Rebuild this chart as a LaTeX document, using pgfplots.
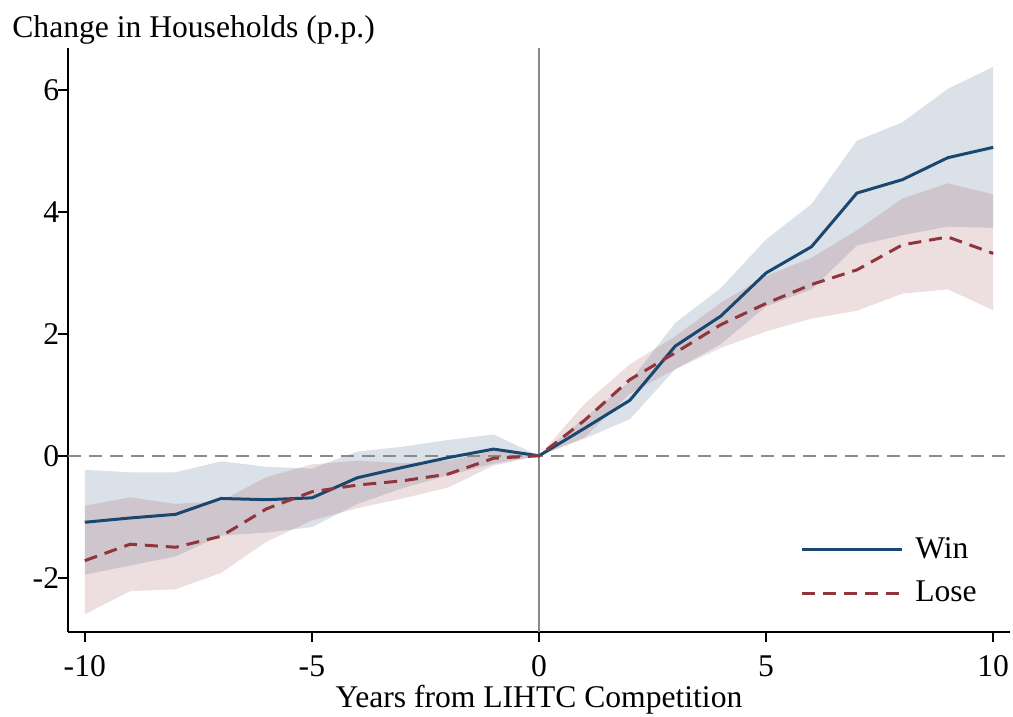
\documentclass[border=0pt]{standalone}
\usepackage{fontspec}
\setmainfont{Liberation Serif}
\usepackage{pgfplots}
\pgfplotsset{compat=1.18}
\definecolor{winc}{HTML}{1A476F}
\definecolor{losec}{HTML}{90353B}
\definecolor{refgray}{HTML}{8A8A8A}
\begin{document}
\fontsize{15.8}{18}\selectfont
\begin{tikzpicture}
\begin{axis}[
  name=ax,
  scale only axis, width=471pt, height=292pt,
  xmin=-10.37, xmax=10.37, ymin=-2.89, ymax=6.69,
  axis x line*=bottom, axis y line*=left,
  axis line style={line width=1pt, black},
  xtick={-10,-5,0,5,10}, xticklabels={-10,-5,0,5,10},
  ytick={-2,0,2,4,6}, yticklabels={-2,0,2,4,6},
  tick align=outside, major tick length=5pt,
  tick style={black, line width=0.9pt},
  xticklabel style={yshift=-1.5pt},
  yticklabel style={xshift=6pt},
  xlabel={Years from LIHTC Competition},
  xlabel style={at={(axis description cs:0.5,0)}, anchor=base, yshift=-38pt},
  clip=false,
  legend style={draw=none, fill=none, at={(0.777,0.17)}, anchor=north west, row sep=5pt, inner sep=0pt, /tikz/column sep=4pt},
  legend cell align=left,
  legend image code/.code={\draw[#1] (0pt,0pt) -- (50pt,0pt);},
]
% bands
\addplot[draw=none, fill=winc, fill opacity=0.16, forget plot] coordinates {
(-10,-0.23) (-9,-0.27) (-8,-0.27) (-7,-0.09) (-6,-0.18) (-5,-0.21) (-4,0.07) (-3,0.15) (-2,0.26) (-1,0.35) (0,0)
(1,0.62) (2,1.22) (3,2.18) (4,2.75) (5,3.55) (6,4.13) (7,5.17) (8,5.47) (9,6.02) (10,6.38)
(10,3.74) (9,3.76) (8,3.62) (7,3.45) (6,2.73) (5,2.45) (4,1.83) (3,1.42) (2,0.60) (1,0.28)
(0,0) (-1,-0.13) (-2,-0.32) (-3,-0.53) (-4,-0.79) (-5,-1.17) (-6,-1.26) (-7,-1.31) (-8,-1.65) (-9,-1.80) (-10,-1.95)
};
\addplot[draw=none, fill=losec, fill opacity=0.16, forget plot] coordinates {
(-10,-0.82) (-9,-0.68) (-8,-0.79) (-7,-0.74) (-6,-0.35) (-5,-0.14) (-4,-0.08) (-3,-0.12) (-2,-0.08) (-1,0.08) (0,0)
(1,0.85) (2,1.50) (3,1.96) (4,2.51) (5,2.95) (6,3.25) (7,3.70) (8,4.22) (9,4.47) (10,4.29)
(10,2.39) (9,2.73) (8,2.66) (7,2.38) (6,2.25) (5,2.04) (4,1.77) (3,1.42) (2,1.02) (1,0.30)
(0,0) (-1,-0.16) (-2,-0.52) (-3,-0.70) (-4,-0.86) (-5,-1.06) (-6,-1.41) (-7,-1.92) (-8,-2.19) (-9,-2.22) (-10,-2.60)
};
% reference lines
\addplot[refgray, line width=1pt, dash pattern=on 6.5pt off 4pt, forget plot] coordinates {(-10.37,0) (10.37,0)};
\addplot[refgray, line width=0.9pt, forget plot] coordinates {(0,-2.89) (0,6.69)};
% estimates
\addplot[winc, line width=1.5pt] coordinates {
(-10,-1.09) (-9,-1.02) (-8,-0.96) (-7,-0.70) (-6,-0.72) (-5,-0.69) (-4,-0.36) (-3,-0.19) (-2,-0.03) (-1,0.11) (0,0)
(1,0.45) (2,0.91) (3,1.80) (4,2.29) (5,3.00) (6,3.43) (7,4.31) (8,4.53) (9,4.89) (10,5.06)
};
\addlegendentry{Win}
\addplot[losec, line width=1.5pt, dash pattern=on 6.5pt off 4pt] coordinates {
(-10,-1.72) (-9,-1.45) (-8,-1.50) (-7,-1.32) (-6,-0.87) (-5,-0.59) (-4,-0.48) (-3,-0.41) (-2,-0.30) (-1,-0.04) (0,0)
(1,0.58) (2,1.25) (3,1.69) (4,2.15) (5,2.50) (6,2.81) (7,3.05) (8,3.46) (9,3.59) (10,3.32)
};
\addlegendentry{Lose}
\end{axis}
\node[anchor=base west, inner sep=0pt] at ([xshift=-28pt, yshift=5pt]ax.north west) {Change in Households (p.p.)};
\pgfresetboundingbox
\path[use as bounding box] ([xshift=-34pt, yshift=-42.5pt]ax.south west) rectangle ([xshift=1.5pt, yshift=24pt]ax.north east);
\end{tikzpicture}
\end{document}
